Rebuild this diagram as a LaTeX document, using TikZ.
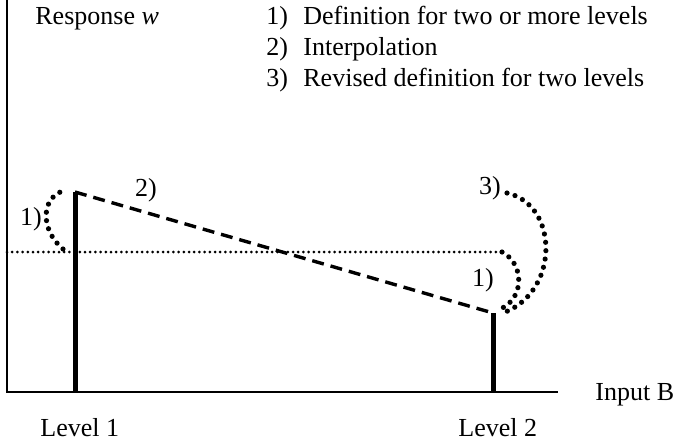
\documentclass[tikz,border=0pt]{standalone}
\usepackage{fontspec}
\setmainfont{Liberation Serif}
\usepackage{tikz}
\usetikzlibrary{positioning}

\tikzset{
  axisline/.style={line width=1.3pt},
  levelbar/.style={line width=2.5pt},
  interpline/.style={line width=1.7pt, dash pattern=on 6pt off 3.5pt},
  finedots/.style={line width=1.5pt, line cap=round, dash pattern=on 0pt off 2.6pt},
  bigdots/.style={line width=2.6pt, line cap=round, dash pattern=on 0pt off 4.2pt},
  lbl/.style={inner sep=0pt, font=\fontsize{13}{15}\selectfont},
}

\begin{document}
\begin{tikzpicture}[x=0.5pt, y=-0.5pt]
  \useasboundingbox (0,0) rectangle (674,444);

  % axes
  \coordinate (ytop) at (7,0);
  \coordinate (orig) at (7,392);
  \coordinate (xend) at (558,392);
  \draw[axisline] (ytop) -- (orig) -- (xend);

  % the two levels
  \coordinate (l1base) at (75,392);
  \coordinate (l1top) at (75,192);
  \coordinate (l2base) at (493,392);
  \coordinate (l2top) at (493,313);
  \draw[levelbar] (l1base) -- (l1top);
  \draw[levelbar] (l2base) -- (l2top);

  % interpolation
  \draw[interpline] (l1top) -- (l2top);

  % horizontal level line
  \coordinate (hstart) at (7,252);
  \coordinate (hend) at (502,252);
  \draw[finedots] (hstart) -- (hend);

  % definition arcs
  \coordinate (dl1) at (63,249);
  \coordinate (dl2) at (66,190);
  \draw[bigdots] (dl1) .. controls (40,230) and (40,196) .. (dl2);
  \coordinate (dr2) at (498,310);
  \draw[bigdots] (hend) .. controls (525,264) and (525,300) .. (dr2);
  \coordinate (rv1) at (507,193);
  \coordinate (rv2) at (500,314);
  \draw[bigdots] (rv1) .. controls (560,205) and (560,295) .. (rv2);

  % texts
  \node[lbl, anchor=base west] (resp) at (35,25) {Response \textit{w}};
  \node[lbl, anchor=base west] (k1) at (266,25) {1)};
  \node[lbl, anchor=base west] (k2) at (266,56) {2)};
  \node[lbl, anchor=base west] (k3) at (266,87) {3)};
  \node[lbl, anchor=base west] (t1) at (303,25) {Definition for two or more levels};
  \node[lbl, anchor=base west] (t2) at (303,56) {Interpolation};
  \node[lbl, anchor=base west] (t3) at (303,87) {Revised definition for two levels};

  \node[lbl] (lab1l) at (31,219) {1)};
  \node[lbl] (lab2) at (146,190) {2)};
  \node[lbl] (lab3) at (490,188) {3)};
  \node[lbl] (lab1r) at (483,280) {1)};

  \node[lbl, anchor=base west] (inp) at (595,400) {Input B};
  \node[lbl, anchor=base west] (lev1) at (40,436) {Level 1};
  \node[lbl, anchor=base west] (lev2) at (458,436) {Level 2};
\end{tikzpicture}
\end{document}
